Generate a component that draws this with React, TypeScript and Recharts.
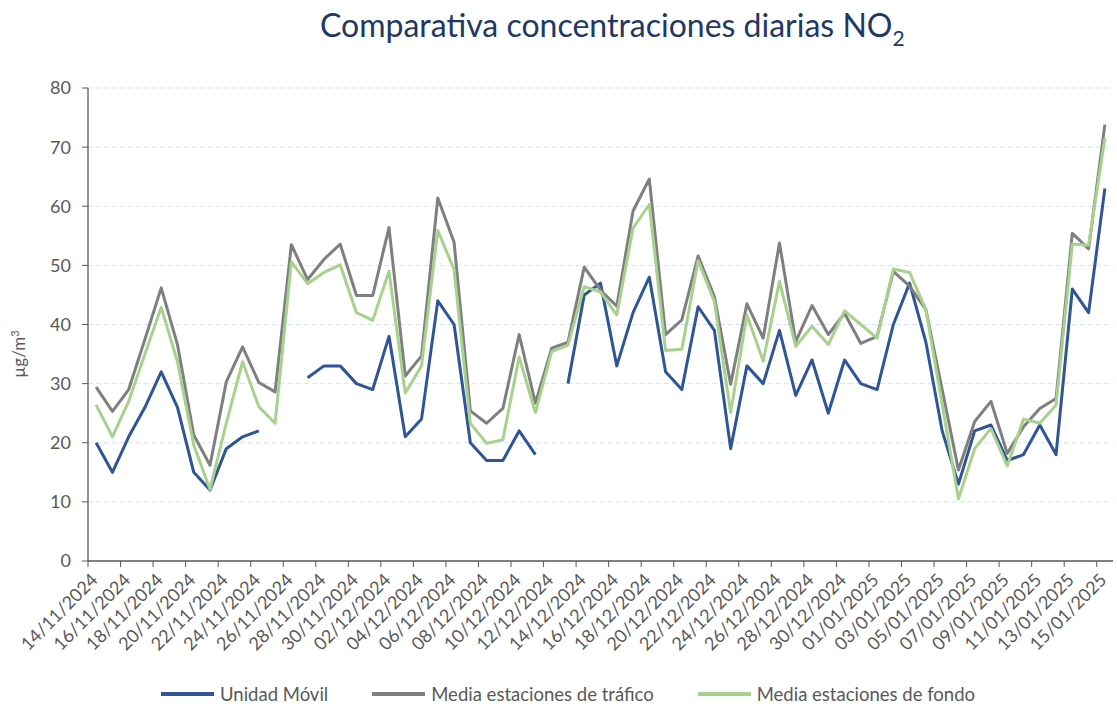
import { LineChart, Line, XAxis, YAxis, CartesianGrid } from "recharts";

const fechas = [
  "14/11/2024", "15/11/2024", "16/11/2024", "17/11/2024", "18/11/2024", "19/11/2024", "20/11/2024",
  "21/11/2024", "22/11/2024", "23/11/2024", "24/11/2024", "25/11/2024", "26/11/2024", "27/11/2024",
  "28/11/2024", "29/11/2024", "30/11/2024",
  "01/12/2024", "02/12/2024", "03/12/2024", "04/12/2024", "05/12/2024", "06/12/2024", "07/12/2024",
  "08/12/2024", "09/12/2024", "10/12/2024", "11/12/2024", "12/12/2024", "13/12/2024", "14/12/2024",
  "15/12/2024", "16/12/2024", "17/12/2024", "18/12/2024", "19/12/2024", "20/12/2024", "21/12/2024",
  "22/12/2024", "23/12/2024", "24/12/2024", "25/12/2024", "26/12/2024", "27/12/2024", "28/12/2024",
  "29/12/2024", "30/12/2024", "31/12/2024",
  "01/01/2025", "02/01/2025", "03/01/2025", "04/01/2025", "05/01/2025", "06/01/2025", "07/01/2025",
  "08/01/2025", "09/01/2025", "10/01/2025", "11/01/2025", "12/01/2025", "13/01/2025", "14/01/2025",
  "15/01/2025",
];

const unidadMovil = [
  20, 15, 21, 26, 32, 26, 15, 12, 19, 21,
  22, null, null, 31, 33, 33, 30, 29, 38, 21,
  24, 44, 40, 20, 17, 17, 22, 18, null, 30,
  45, 47, 33, 42, 48, 32, 29, 43, 39, 19,
  33, 30, 39, 28, 34, 25, 34, 30, 29, 40,
  47, 37, 22, 13, 22, 23, 17, 18, 23, 18,
  46, 42, 63,
];

const trafico = [
  29.4, 25.3, 29.0, 37.5, 46.2, 36.6, 21.3, 16.2, 30.3, 36.2,
  30.2, 28.6, 53.5, 47.6, 51.0, 53.6, 44.9, 44.9, 56.4, 31.3,
  34.7, 61.4, 53.9, 25.4, 23.3, 25.8, 38.3, 26.7, 36.0, 37.0,
  49.7, 45.8, 43.1, 59.2, 64.6, 38.3, 40.8, 51.6, 44.7, 29.9,
  43.5, 37.7, 53.8, 37.1, 43.2, 38.3, 41.9, 36.8, 38.0, 49.0,
  46.5, 42.5, 29.0, 15.4, 23.6, 27.0, 18.2, 22.7, 25.8, 27.5,
  55.4, 52.8, 73.8,
];

const fondo = [
  26.4, 21.0, 27.0, 35.0, 42.9, 33.7, 19.6, 12.1, 23.3, 33.7,
  26.1, 23.3, 50.6, 46.9, 48.8, 50.1, 42.0, 40.7, 49.0, 28.4,
  33.0, 55.9, 49.3, 23.3, 19.9, 20.5, 34.5, 25.1, 35.4, 36.5,
  46.4, 45.5, 41.6, 56.3, 60.3, 35.6, 35.8, 50.8, 43.9, 25.1,
  41.6, 33.8, 47.3, 36.3, 39.7, 36.6, 42.3, 40.0, 37.7, 49.4,
  48.8, 42.5, 26.5, 10.5, 19.0, 22.4, 16.1, 24.0, 23.3, 26.4,
  53.6, 53.4, 71.5,
];

const yTicks = [0, 10, 20, 30, 40, 50, 60, 70, 80];

const series = [
  { key: "movil", name: "Unidad Móvil", color: "#2F5597" },
  { key: "trafico", name: "Media estaciones de tráfico", color: "#7F7F7F" },
  { key: "fondo", name: "Media estaciones de fondo", color: "#A9D18E" },
];

const data = fechas.map((fecha, i) => ({
  fecha,
  movil: unidadMovil[i],
  trafico: trafico[i],
  fondo: fondo[i],
}));

const WIDTH = 1117;
const HEIGHT = 704;
const PLOT_LEFT = 88;
const PLOT_RIGHT = 1113;
const STEP = (PLOT_RIGHT - PLOT_LEFT) / fechas.length;
const FONT = "Lato, 'Open Sans', sans-serif";
const TEXT_GREY = "#595959";

// ticks sit on the category boundaries, label ends just right of the tick
function DateTick(props: any) {
  const { x, y, payload } = props;
  const bx = x - STEP / 2;
  const tx = bx + 11;
  const ty = y + 20;
  return (
    <g>
      <line x1={bx} y1={y} x2={bx} y2={y + 6} stroke={TEXT_GREY} strokeWidth={1} />
      <text
        x={tx}
        y={ty}
        textAnchor="end"
        transform={`rotate(-45, ${tx}, ${ty})`}
        fill={TEXT_GREY}
        fontSize={18}
        fontFamily={FONT}
      >
        {payload.value}
      </text>
    </g>
  );
}

function UnitLabel() {
  return (
    <text
      x={25}
      y={354}
      transform="rotate(-90, 25, 354)"
      textAnchor="middle"
      fill={TEXT_GREY}
      fontSize={17}
      fontFamily={FONT}
    >
      µg/m<tspan dy={-6} fontSize={11}>3</tspan>
    </text>
  );
}

export default function App() {
  return (
    <div
      style={{
        position: "absolute",
        left: 0,
        top: 0,
        width: WIDTH,
        height: HEIGHT,
        background: "#fff",
        fontFamily: FONT,
      }}
    >
      <div
        style={{
          position: "absolute",
          left: 320,
          top: 6,
          fontSize: 32,
          lineHeight: "38px",
          color: "#1F3864",
          whiteSpace: "nowrap",
        }}
      >
        Comparativa concentraciones diarias NO
        <span style={{ fontSize: 21, position: "relative", top: 9 }}>2</span>
      </div>

      <LineChart
        width={WIDTH}
        height={HEIGHT}
        data={data}
        margin={{ top: 88, right: WIDTH - PLOT_RIGHT, bottom: 0, left: 0 }}
      >
        <CartesianGrid vertical={false} stroke="#D9E3F3" strokeDasharray="5 3" />
        <XAxis
          dataKey="fecha"
          interval={1}
          height={143}
          padding={{ left: STEP / 2, right: STEP / 2 }}
          tickSize={0}
          tickMargin={0}
          tick={<DateTick />}
          axisLine={{ stroke: TEXT_GREY, strokeWidth: 1.3 }}
        />
        <YAxis
          width={PLOT_LEFT}
          domain={[0, 80]}
          ticks={yTicks}
          interval={0}
          tickSize={6}
          tickMargin={11}
          tick={{ fill: TEXT_GREY, fontSize: 18, fontFamily: FONT }}
          tickLine={{ stroke: TEXT_GREY }}
          axisLine={{ stroke: TEXT_GREY, strokeWidth: 1.3 }}
          label={<UnitLabel />}
        />
        {series.map((s) => (
          <Line
            key={s.key}
            type="linear"
            dataKey={s.key}
            name={s.name}
            stroke={s.color}
            strokeWidth={3}
            strokeLinejoin="round"
            dot={false}
            activeDot={false}
            connectNulls={false}
            isAnimationActive={false}
          />
        ))}
      </LineChart>

      <div
        style={{
          position: "absolute",
          left: 161,
          top: 684,
          height: 20,
          display: "flex",
          alignItems: "center",
          fontSize: 18.5,
          lineHeight: "20px",
          color: TEXT_GREY,
          whiteSpace: "nowrap",
        }}
      >
        {series.map((s, i) => (
          <div
            key={s.key}
            style={{ display: "flex", alignItems: "center", marginLeft: i === 0 ? 0 : 44 }}
          >
            <span style={{ display: "inline-block", width: 53, height: 4, background: s.color, marginRight: 6 }} />
            <span>{s.name}</span>
          </div>
        ))}
      </div>
    </div>
  );
}
